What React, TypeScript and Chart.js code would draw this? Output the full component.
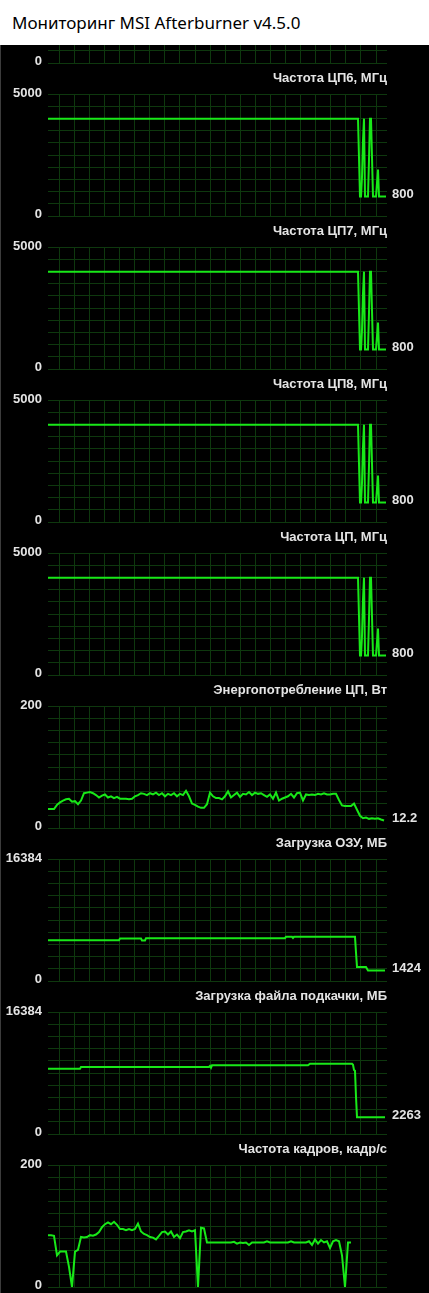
import React, { useEffect, useRef } from "react";
import { Chart, registerables } from "chart.js";

Chart.register(...registerables);

const WINDOW_TITLE = "Мониторинг MSI Afterburner v4.5.0";

// time axis: seconds from the left edge of the history graph
const TIME_SPAN = 339;

// ---- CPU clocks (MHz) ----
const cpuTimes = [0, 310, 311, 312, 313, 314, 315, 316, 317, 318, 319, 320, 321, 322, 323, 324, 325, 326, 327, 328, 329, 330, 331, 338];
const cpu6Mhz = [3990, 3990, 2400, 800, 800, 1600, 3100, 3990, 800, 800, 800, 800, 2300, 3990, 3990, 2400, 800, 800, 800, 800, 1350, 1900, 800, 800];
const cpu7Mhz = [3990, 3990, 2400, 800, 800, 1600, 3100, 3990, 800, 800, 800, 800, 2300, 3990, 3990, 2400, 800, 800, 800, 800, 1350, 1900, 800, 800];
const cpu8Mhz = [3990, 3990, 2400, 800, 800, 1600, 3100, 3990, 800, 800, 800, 800, 2300, 3990, 3990, 2400, 800, 800, 800, 800, 1350, 1900, 800, 800];
const cpuMhz = [3990, 3990, 2400, 800, 800, 1600, 3100, 3990, 800, 800, 800, 800, 2300, 3990, 3990, 2400, 800, 800, 800, 800, 1350, 1900, 800, 800];

// ---- CPU power (W), one sample every 3 s ----
const POWER_STEP = 3;
const cpuPowerW = [
  31, 31, 31, 38, 42, 45, 47, 48, 43, 44,
  39, 45, 57, 58, 59, 57, 54, 50, 53, 55,
  50, 52, 49, 51, 48, 48, 48, 47, 48, 52,
  54, 57, 56, 54, 57, 55, 58, 54, 57, 52,
  56, 54, 57, 52, 56, 54, 61, 52, 40, 38,
  35, 33, 33, 39, 58, 52, 49, 49, 47, 52,
  60, 50, 54, 58, 51, 56, 55, 59, 54, 58,
  56, 57, 54, 51, 55, 48, 58, 45, 48, 50,
  52, 56, 50, 57, 58, 45, 55, 54, 55, 54,
  56, 55, 57, 55, 55, 56, 56, 46, 37, 36,
  36, 36, 40, 30, 20, 16, 17, 15, 16, 15,
  16, 14, 12.2,
];

// ---- RAM usage (MB) ----
const ramTimes = [0, 71, 72, 93, 94, 97, 98, 237, 238, 244, 245, 246, 307, 308, 309, 318, 320, 337];
const ramMb = [5480, 5480, 5710, 5710, 5450, 5450, 5750, 5750, 5930, 5930, 5780, 5930, 5930, 3820, 1890, 1890, 1424, 1424];

// ---- Pagefile usage (MB) ----
const pagefileTimes = [0, 32, 33, 161, 162, 163, 164, 260, 262, 304, 305, 306, 307, 308, 309, 337];
const pagefileMb = [8770, 8770, 9000, 9000, 9150, 8900, 9220, 9220, 9440, 9440, 9300, 8600, 8500, 5000, 2263, 2263];

// ---- Framerate (FPS), one sample every 3 s ----
const FPS_STEP = 3;
const framerateFps = [
  85, 85, 84, 52, 58, 58, 58, 33, 0, 58,
  61, 82, 81, 82, 85, 84, 86, 90, 98, 103,
  106, 103, 107, 102, 95, 95, 93, 95, 93, 95,
  104, 91, 87, 85, 82, 81, 78, 84, 90, 91,
  86, 91, 82, 86, 80, 90, 91, 93, 91, 93,
  0, 97, 96, 73, 73, 73, 73, 73, 73, 73,
  73, 73, 74, 71, 73, 72, 73, 69, 73, 73,
  73, 73, 73, 75, 73, 73, 73, 73, 73, 73,
  73, 75, 73, 73, 73, 73, 73, 75, 69, 78,
  71, 77, 73, 75, 64, 75, 77, 75, 52, 0,
  73, 73,
];

const panelTitles = [
  "",
  "Частота ЦП6, МГц",
  "Частота ЦП7, МГц",
  "Частота ЦП8, МГц",
  "Частота ЦП, МГц",
  "Энергопотребление ЦП, Вт",
  "Загрузка ОЗУ, МБ",
  "Загрузка файла подкачки, МБ",
  "Частота кадров, кадр/с",
];
const panelMax = [5000, 5000, 5000, 5000, 5000, 200, 16384, 16384, 200];

const GRID = "rgb(14, 56, 14)";
const LINE = "rgb(24, 232, 24)";
const TEXT = "#e4e4e4";
const LABEL_FONT = 'bold 13px "Liberation Sans", Arial, sans-serif';

type Pt = { x: number; y: number };

const pairs = (t: number[], v: number[]): Pt[] => v.map((y, i) => ({ x: t[i], y }));
const stepped = (step: number, v: number[]): Pt[] => v.map((y, i) => ({ x: i * step, y }));

const labelsPlugin = {
  id: "abLabels",
  afterDraw(chart: any, _args: any, opts: any) {
    const { ctx, chartArea } = chart;
    const ys = chart.scales.y;
    ctx.save();
    ctx.font = LABEL_FONT;
    ctx.fillStyle = TEXT;
    ctx.textBaseline = "middle";
    ctx.textAlign = "right";
    if (opts.title) ctx.fillText(opts.title, chartArea.right, chartArea.top - 16);
    ctx.fillText(String(opts.max), 42, chartArea.top - 0.5);
    ctx.fillText("0", 42, chartArea.bottom - 1.5);
    const data = chart.data.datasets[0].data as Pt[];
    if (opts.showValue && data.length) {
      const last = data[data.length - 1].y;
      ctx.textAlign = "left";
      ctx.fillText(String(last), chartArea.right + 5, ys.getPixelForValue(last) - 2);
    }
    ctx.restore();
  },
};

const gridTimes: number[] = [];
for (let k = 0; k < 22; k++) gridTimes.push(11.33 + 15.08 * k);

function Panel(props: { title: string; max: number; points: Pt[]; showValue: boolean; top: number }) {
  const ref = useRef<HTMLCanvasElement>(null);
  useEffect(() => {
    const max = props.max;
    const chart = new Chart(ref.current as HTMLCanvasElement, {
      type: "line",
      data: {
        datasets: [
          {
            data: props.points as any,
            borderColor: LINE,
            borderWidth: 2,
            pointRadius: 0,
            tension: 0,
            fill: false,
          },
        ],
      },
      options: {
        responsive: false,
        animation: false,
        devicePixelRatio: 1,
        layout: { padding: { left: 48, right: 42, top: 28, bottom: 10 } },
        plugins: {
          legend: { display: false },
          tooltip: { enabled: false },
          abLabels: { title: props.title, max, showValue: props.showValue },
        } as any,
        scales: {
          x: {
            type: "linear",
            min: 0,
            max: TIME_SPAN,
            ticks: { display: false },
            grid: { color: GRID, drawTicks: false, lineWidth: 1 },
            border: { display: false },
            afterBuildTicks: (s: any) => {
              s.ticks = gridTimes.map((v) => ({ value: v }));
            },
          },
          y: {
            type: "linear",
            min: 0,
            max,
            ticks: { display: false },
            grid: { color: GRID, drawTicks: false, lineWidth: 1 },
            border: { display: false },
            afterBuildTicks: (s: any) => {
              const t = [];
              for (let k = 0; k <= 10; k++) t.push({ value: (max * k) / 10 });
              s.ticks = t;
            },
          },
        },
      },
      plugins: [labelsPlugin],
    });
    return () => chart.destroy();
  }, []);
  return (
    <canvas
      ref={ref}
      width={429}
      height={160}
      style={{ position: "absolute", left: 0, top: props.top, width: 429, height: 160 }}
    />
  );
}

export default function App() {
  const series: Pt[][] = [
    [],
    pairs(cpuTimes, cpu6Mhz),
    pairs(cpuTimes, cpu7Mhz),
    pairs(cpuTimes, cpu8Mhz),
    pairs(cpuTimes, cpuMhz),
    stepped(POWER_STEP, cpuPowerW),
    pairs(ramTimes, ramMb),
    pairs(pagefileTimes, pagefileMb),
    stepped(FPS_STEP, framerateFps),
  ];
  const showValue = [false, true, true, true, true, true, true, true, false];
  // plot tops in page coordinates: 94 + 153*(i-1); black area starts at y=45
  return (
    <div style={{ position: "fixed", left: 0, top: 0, width: 429, height: 1293, background: "#fff", overflow: "hidden" }}>
      <div
        style={{
          position: "absolute",
          left: 12,
          top: 11,
          font: '17px "Noto Sans", "Open Sans", sans-serif',
          lineHeight: "23px",
          color: "#000",
          whiteSpace: "nowrap",
        }}
      >
        {WINDOW_TITLE}
      </div>
      <div
        style={{
          position: "absolute",
          left: 0,
          top: 45,
          width: 429,
          height: 1248,
          background: "#000",
          overflow: "hidden",
          boxShadow: "inset 1px 0 0 #3c3c3c",
        }}
      >
        {series.map((pts, i) => (
          <Panel
            key={i}
            title={panelTitles[i]}
            max={panelMax[i]}
            points={pts}
            showValue={showValue[i]}
            top={94 + 153 * (i - 1) - 28 - 45}
          />
        ))}
      </div>
    </div>
  );
}
